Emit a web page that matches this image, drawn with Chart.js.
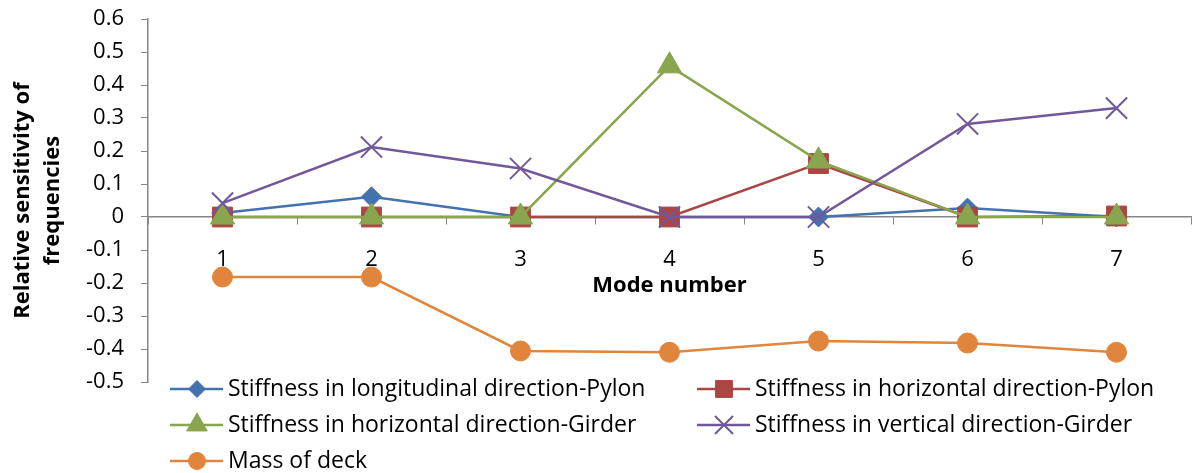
<!DOCTYPE html>
<html>
<head>
<meta charset="utf-8">
<script src="https://cdn.jsdelivr.net/npm/chart.js@4.4.1/dist/chart.umd.min.js"></script>
<style>
  html, body { margin: 0; padding: 0; background: #fff; }
  #wrap { position: relative; width: 1192px; height: 473px; }
</style>
</head>
<body>
<div id="wrap"><canvas id="sensChart" width="1192" height="473"></canvas></div>
<script>
// valores
const modes = ['1', '2', '3', '4', '5', '6', '7'];
const seriesNames = [
    'Stiffness in longitudinal direction-Pylon',
    'Stiffness in horizontal direction-Pylon',
    'Stiffness in horizontal direction-Girder',
    'Stiffness in vertical direction-Girder',
    'Mass of deck'
];
const longPylon   = [0.012, 0.061, 0, 0, 0, 0.027, 0];
const horizPylon  = [0, 0, 0, 0, 0.162, 0, 0.003];
const horizGirder = [0, 0, 0, 0.458, 0.17, 0, 0];
const vertGirder  = [0.042, 0.212, 0.147, 0, 0, 0.282, 0.33];
const massDeck    = [-0.182, -0.182, -0.406, -0.41, -0.376, -0.382, -0.41];
const yTicks = { min: -0.5, max: 0.6, step: 0.1 };

const FONT = '"Open Sans", Lato, sans-serif';
const AXIS_GRAY = '#868686';

function serie(label, data, color, style, radius, order) {
    return {
        label, data, order,
        borderColor: color,
        backgroundColor: color,
        borderWidth: 2.5,
        pointStyle: style,
        pointRadius: radius,
        pointHoverRadius: radius,
        pointBackgroundColor: color,
        pointBorderColor: color,
        pointBorderWidth: style === 'crossRot' ? 2 : 1,
        tension: 0,
        clip: false
    };
}

// legenda em duas colunas, igual ao Excel
const gridLegend = {
    id: 'gridLegend',
    afterDraw(chart) {
        const ctx = chart.ctx;
        ctx.save();
        chart.data.datasets.forEach((ds, i) => {
            const x = 170 + (i % 2) * 527;
            const y = 389 + Math.floor(i / 2) * 36;
            ctx.strokeStyle = ds.borderColor;
            ctx.lineWidth = ds.borderWidth;
            ctx.beginPath();
            ctx.moveTo(x, y);
            ctx.lineTo(x + 53, y);
            ctx.stroke();
            ctx.fillStyle = ds.pointBackgroundColor;
            ctx.strokeStyle = ds.pointBorderColor;
            ctx.lineWidth = ds.pointBorderWidth;
            Chart.helpers.drawPoint(ctx, {
                pointStyle: ds.pointStyle,
                radius: ds.pointRadius * 0.85,
                rotation: 0,
                borderWidth: ds.pointBorderWidth
            }, x + 27, y);
            ctx.fillStyle = '#000';
            ctx.font = '23px ' + FONT;
            ctx.textAlign = 'left';
            ctx.textBaseline = 'middle';
            ctx.fillText(ds.label, x + 58, y);
        });
        ctx.restore();
    }
};

Chart.defaults.font.family = FONT;
Chart.defaults.color = '#000';

new Chart(document.getElementById('sensChart'), {
    type: 'line',
    data: {
        labels: modes,
        datasets: [
            serie(seriesNames[0], longPylon, '#4472AE', 'rectRot', 10, 5),
            serie(seriesNames[1], horizPylon, '#AA4643', 'rect', 14, 4),
            serie(seriesNames[2], horizGirder, '#89A54E', 'triangle', 14, 3),
            serie(seriesNames[3], vertGirder, '#71589B', 'crossRot', 15, 2),
            serie(seriesNames[4], massDeck, '#E0853B', 'circle', 10, 1)
        ]
    },
    options: {
        responsive: false,
        animation: false,
        layout: { autoPadding: false, padding: { top: 19, right: 1, bottom: 91, left: 0 } },
        plugins: {
            legend: { display: false },
            tooltip: { enabled: false }
        },
        scales: {
            x: {
                position: { y: 0 },
                offset: true,
                afterFit(scale) {
                    scale.paddingLeft = 0;
                    scale.paddingRight = 0;
                    scale.paddingTop = 0;
                    scale.paddingBottom = 0;
                },
                grid: {
                    offset: true,
                    drawOnChartArea: false,
                    drawTicks: true,
                    tickLength: 7,
                    color: AXIS_GRAY
                },
                border: { display: true, color: AXIS_GRAY, width: 1.5 },
                ticks: { padding: 25, font: { size: 22, lineHeight: 1 } },
                title: {
                    display: true,
                    text: 'Mode number',
                    font: { size: 22, weight: 'bold' },
                    padding: { top: -23, bottom: 0 }
                }
            },
            y: {
                min: yTicks.min,
                max: yTicks.max,
                afterFit(scale) {
                    scale.width = 148;
                    scale.paddingTop = 11;
                    scale.paddingBottom = 11;
                    scale.paddingLeft = 0;
                    scale.paddingRight = 0;
                },
                grid: {
                    drawOnChartArea: false,
                    drawTicks: true,
                    tickLength: 7,
                    color: AXIS_GRAY
                },
                border: { display: true, color: AXIS_GRAY, width: 1.5 },
                ticks: {
                    stepSize: yTicks.step,
                    padding: 17,
                    font: { size: 22 },
                    callback: v => Math.abs(v) < 1e-9 ? '0' : (+v).toFixed(1)
                },
                title: {
                    display: true,
                    text: ['Relative sensitivity of', 'frequencies'],
                    font: { size: 22, weight: 'bold', lineHeight: '30px' },
                    padding: { top: 8, bottom: 0 }
                }
            }
        }
    },
    plugins: [gridLegend]
});
</script>
</body>
</html>
